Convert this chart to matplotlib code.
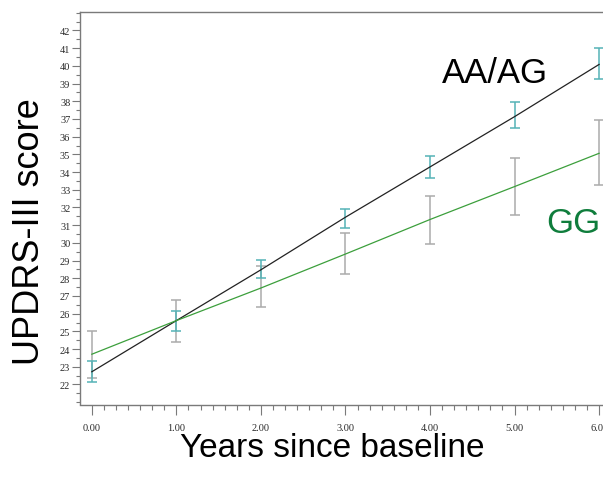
import matplotlib
matplotlib.use("Agg")
import matplotlib.pyplot as plt
from matplotlib.ticker import MultipleLocator, FormatStrFormatter

# values
years = [0, 1, 2, 3, 4, 5, 6]
aa_fit = [22.72, 25.61, 28.48, 31.45, 34.29, 37.13, 40.08]
aa_lo = [22.13, 25.04, 28.00, 30.85, 33.65, 36.47, 39.23]
aa_hi = [23.32, 26.14, 29.05, 31.94, 34.93, 37.95, 40.98]
gg_fit = [23.71, 25.61, 27.45, 29.37, 31.32, 33.18, 35.06]
gg_lo = [22.36, 24.41, 26.38, 28.22, 29.95, 31.60, 33.26]
gg_hi = [25.04, 26.79, 28.70, 30.57, 32.62, 34.77, 36.94]

TEAL = "#55b3b6"
GREY = "#ababab"
LINE_GREEN = "#3c9f3c"
TEXT_GREEN = "#0f7d3c"
FRAME = "#7a7a7a"

W, H = 603, 481
fig = plt.figure(figsize=(W / 100, H / 100), dpi=100)
ax = fig.add_axes([80 / W, 1 - 405.5 / H, 536 / W, 393 / H])

ax.errorbar(years, gg_fit,
            yerr=[[f - l for f, l in zip(gg_fit, gg_lo)], [h - f for f, h in zip(gg_fit, gg_hi)]],
            fmt="none", ecolor=GREY, elinewidth=1.1, capsize=3.6, capthick=1.1, zorder=2)
ax.errorbar(years, aa_fit,
            yerr=[[f - l for f, l in zip(aa_fit, aa_lo)], [h - f for f, h in zip(aa_fit, aa_hi)]],
            fmt="none", ecolor=TEAL, elinewidth=1.1, capsize=3.3, capthick=1.1, zorder=2)
ax.plot(years, aa_fit, color="#222222", lw=0.9, zorder=3)
ax.plot(years, gg_fit, color=LINE_GREEN, lw=0.9, zorder=3)

ax.set_xlim(-0.14, 6.2)
ax.set_ylim(20.87, 43.07)

ax.xaxis.set_major_locator(MultipleLocator(1))
ax.xaxis.set_minor_locator(MultipleLocator(1 / 7))
ax.xaxis.set_major_formatter(FormatStrFormatter("%.2f"))
ax.yaxis.set_minor_locator(MultipleLocator(0.5))
ax.set_yticks(range(22, 43))

ax.spines["right"].set_visible(False)
for s in ["left", "top", "bottom"]:
    ax.spines[s].set_color(FRAME)
    ax.spines[s].set_linewidth(1.0)

ax.tick_params(which="both", direction="out", color=FRAME, width=0.8,
               labelsize=7.5, labelcolor="#2a2a2a")
ax.tick_params(axis="x", which="major", length=7, pad=6)
ax.tick_params(axis="x", which="minor", length=3.5)
ax.tick_params(axis="y", which="major", length=5.5, pad=1.5)
ax.tick_params(axis="y", which="minor", length=3)
for lab in ax.get_xticklabels() + ax.get_yticklabels():
    lab.set_fontfamily("Liberation Serif")

ax.text(4.14, 39.07, "AA/AG", fontsize=25, family="Liberation Sans",
        color="black", va="baseline", ha="left")
ax.text(5.37, 30.6, "GG", fontsize=25, family="Liberation Sans",
        color=TEXT_GREEN, va="baseline", ha="left")

fig.text(30 / W, 1 - 232 / H, "UPDRS-III score", rotation=90, fontsize=26,
         family="Liberation Sans", ha="center", va="center")
fig.text(332 / W, 1 - 449 / H, "Years since baseline", fontsize=24,
         family="Liberation Sans", ha="center", va="center")

fig.savefig("out.png", dpi=100)
